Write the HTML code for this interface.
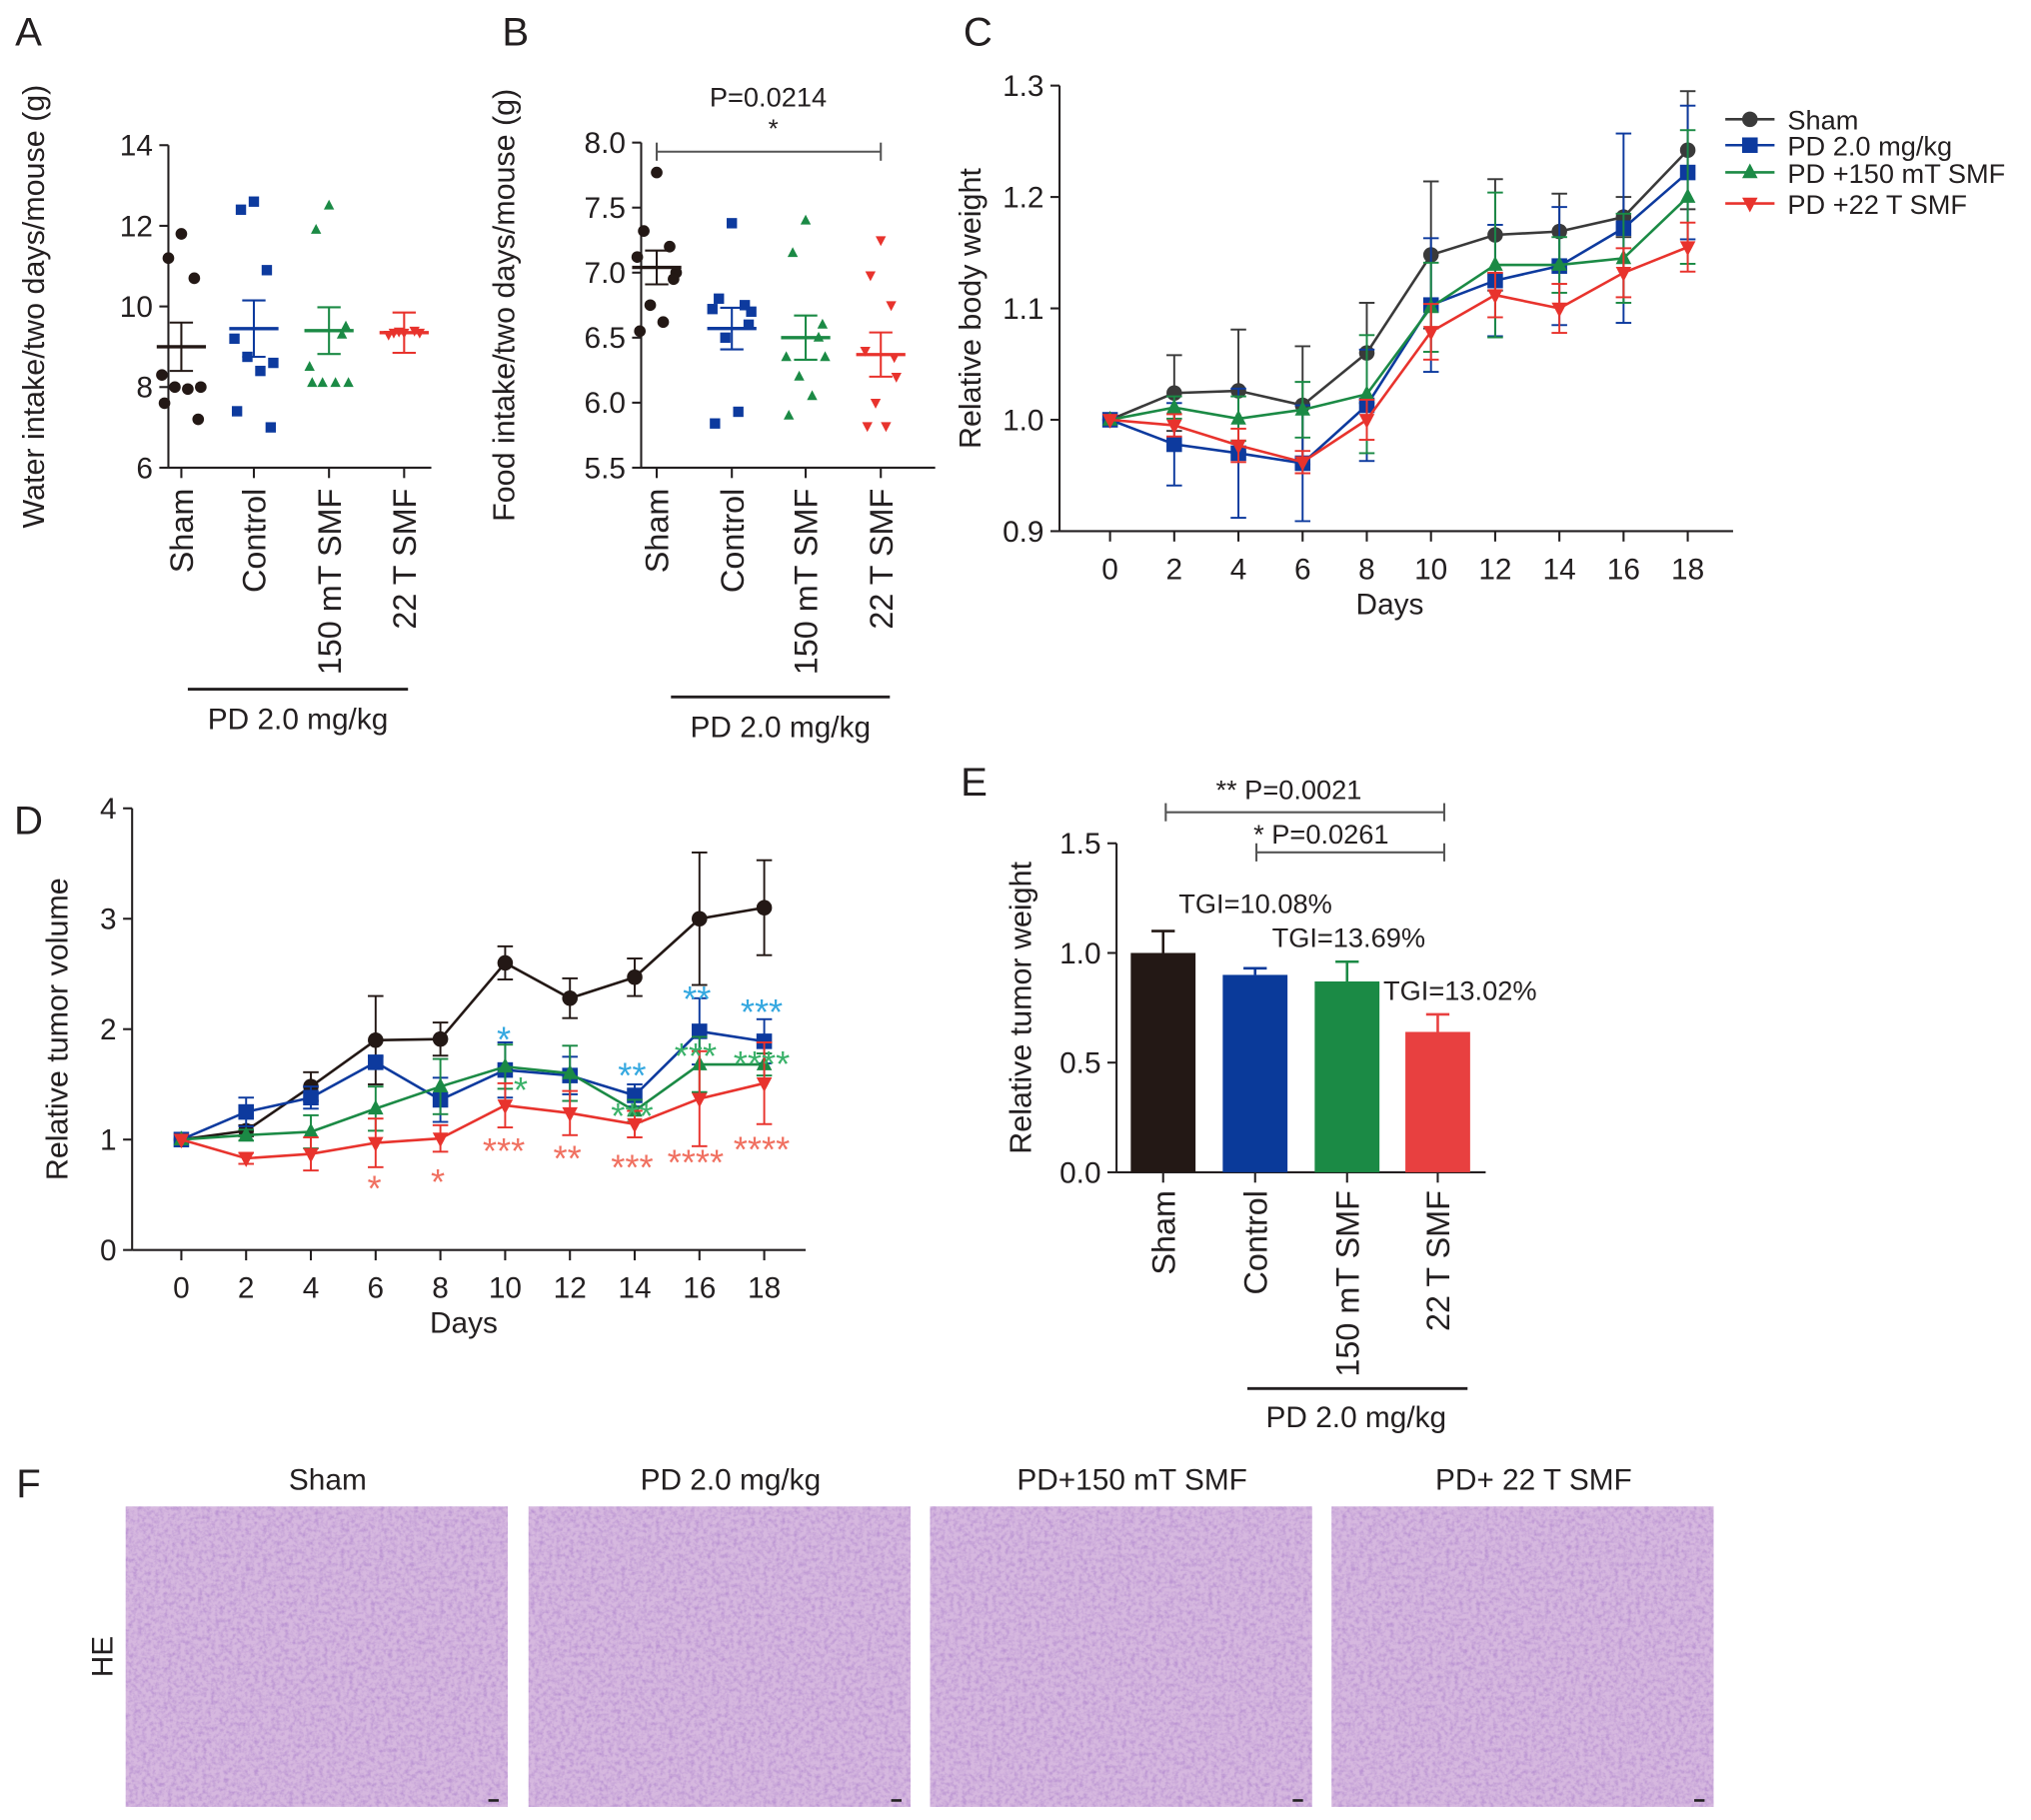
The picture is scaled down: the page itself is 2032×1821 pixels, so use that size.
<!DOCTYPE html>
<html><head><meta charset="utf-8"><style>
html,body{margin:0;padding:0;background:#fff;}
svg{display:block;font-family:"Liberation Sans",Arial,sans-serif;}
</style></head><body>
<svg id="fig" width="2032" height="1821" viewBox="0 0 1568 1405" xmlns="http://www.w3.org/2000/svg">
<defs>
<filter id="tissue" x="0" y="0" width="100%" height="100%">
<feTurbulence type="fractalNoise" baseFrequency="0.3" numOctaves="3" seed="4" result="n"/>
<feColorMatrix in="n" type="matrix" values="0 0 0 0 0.5  0 0 0 0 0.3  0 0 0 0 0.65  0 0 0 2.2 -0.85" result="c"/>
<feComposite in="c" in2="SourceGraphic" operator="atop"/>
</filter>
</defs>
<g id="root"></g>
</svg>
<script>
// ---------- data ----------
const groupsAB = ["Sham","Control","150 mT SMF","22 T SMF"];
const waterSham = [11.8,11.2,10.7,8.3,8.0,8.0,7.95,7.6,7.2];
const waterCtrl = [12.6,12.4,10.9,9.2,8.6,8.75,8.4,7.4,7.0];
const water150 = [12.5,11.9,9.3,8.5,8.1,8.1,8.1,8.1,9.5];
const water22 = [9.35,9.35,9.4,9.3,9.35,9.38];
const waterMean = [9.0,9.45,9.4,9.35];
const waterSem = [0.6,0.7,0.58,0.5];
const foodSham = [7.77,7.32,7.2,7.12,7.0,6.75,6.62,6.55,6.95];
const foodCtrl = [7.38,6.8,6.75,6.72,6.7,6.5,5.93,5.84,6.6];
const food150 = [7.4,7.15,6.5,6.35,6.35,6.2,6.05,5.9,6.6];
const food22 = [7.25,6.98,6.75,6.4,6.2,6.0,5.82,5.82,6.35];
const foodMean = [7.04,6.57,6.5,6.37];
const foodSem = [0.13,0.16,0.17,0.17];

const days = [0,2,4,6,8,10,12,14,16,18];
const bwSham = [1.0,1.024,1.026,1.013,1.06,1.148,1.166,1.169,1.182,1.242];
const bwShamErr = [0,0.034,0.055,0.053,0.045,0.066,0.05,0.034,0.018,0.053];
const bwPD = [1.0,0.978,0.97,0.961,1.013,1.103,1.125,1.138,1.172,1.222];
const bwPDErr = [0,0.037,0.058,0.052,0.05,0.06,0.05,0.053,0.085,0.06];
const bw150 = [1.0,1.011,1.001,1.009,1.023,1.101,1.139,1.139,1.145,1.2];
const bw150Err = [0,0.01,0.02,0.025,0.053,0.04,0.065,0.025,0.04,0.06];
const bw22 = [1.0,0.995,0.977,0.962,1.0,1.079,1.112,1.1,1.132,1.155];
const bw22Err = [0,0.01,0.015,0.01,0.018,0.025,0.02,0.022,0.022,0.022];

const tvSham = [1,1.08,1.48,1.9,1.91,2.6,2.28,2.47,3.0,3.1];
const tvShamErr = [0,0.05,0.13,0.4,0.15,0.15,0.18,0.17,0.6,0.43];
const tvPD = [1,1.25,1.38,1.7,1.36,1.63,1.58,1.4,1.98,1.89];
const tvPDErr = [0,0.13,0.1,0.05,0.2,0.25,0.17,0.1,0.3,0.2];
const tv150 = [1,1.04,1.07,1.28,1.48,1.66,1.6,1.26,1.68,1.68];
const tv150Err = [0,0.05,0.15,0.2,0.25,0.2,0.25,0.1,0.25,0.1];
const tv22 = [1,0.83,0.87,0.97,1.01,1.31,1.24,1.14,1.37,1.51];
const tv22Err = [0,0.05,0.15,0.22,0.12,0.2,0.2,0.12,0.43,0.37];

const twVals = [1.0,0.9,0.87,0.64];
const twErr = [0.1,0.03,0.09,0.08];
const twTGI = ["","TGI=10.08%","TGI=13.69%","TGI=13.02%"];

const heTitles = ["Sham","PD 2.0 mg/kg","PD+150 mT SMF","PD+ 22 T SMF"];

// ---------- helpers ----------
const NS="http://www.w3.org/2000/svg";
const root=document.getElementById('root');
function el(tag,attrs,parent,text){const e=document.createElementNS(NS,tag);for(const k in attrs)e.setAttribute(k,attrs[k]);if(text!==undefined)e.textContent=text;(parent||root).appendChild(e);return e;}
function grp(name,parent){const g=el('g',{},parent);


return g;}
function txt(g,x,y,s,size,opts){opts=opts||{};const t=el('text',{x:x,y:y,'font-size':size,fill:opts.fill||'#231f20','text-anchor':opts.anchor||'middle'},g,s);if(opts.rot)t.setAttribute('transform','rotate('+opts.rot+' '+x+' '+y+')');return t;}
function line(g,x1,y1,x2,y2,c,w){return el('line',{x1:x1,y1:y1,x2:x2,y2:y2,stroke:c||'#231f20','stroke-width':w||1.6},g);}
function marker(g,type,x,y,s,c){
 let m;
 if(type==='circle')m=el('circle',{cx:x,cy:y,r:s,fill:c},g);
 else if(type==='square')m=el('rect',{x:x-s,y:y-s,width:2*s,height:2*s,fill:c},g);
 else if(type==='up')m=el('polygon',{points:(x)+','+(y-s*1.15)+' '+(x-s)+','+(y+s*0.75)+' '+(x+s)+','+(y+s*0.75),fill:c},g);
 else m=el('polygon',{points:(x)+','+(y+s*1.15)+' '+(x-s)+','+(y-s*0.75)+' '+(x+s)+','+(y-s*0.75),fill:c},g);
 return m;}
function letter(s,x,y){const g=grp('panel-label-'+s.toLowerCase());txt(g,x,y,s,31,{anchor:'middle'});}

const C={k:'#231815',b:'#0d3a9e',g:'#1b8a45',r:'#e8332d',cy:'#35a8e0',gs:'#3bb26a',rs:'#f07060'};

// ---------- scatter panels A,B ----------
function scatterPanel(id,ax,cfg){
 const g=grp(id);
 const y=v=>cfg.y0+(v-cfg.vmin)/(cfg.vmax-cfg.vmin)*(cfg.y1-cfg.y0);
 line(g,ax,cfg.y0,ax,cfg.y1);line(g,ax,cfg.y0,cfg.xend,cfg.y0);
 cfg.ticks.forEach(t=>{line(g,ax-7,y(t),ax,y(t));txt(g,ax-12,y(t)+8,cfg.fmt(t),23,{anchor:'end'});});
 const yt=txt(g,cfg.titleX,(cfg.y0+cfg.y1)/2,cfg.title,23.5,{rot:-90});
 
 const cols=[C.k,C.b,C.g,C.r],types=['circle','square','up','down'];
 cfg.xs.forEach((cx,i)=>{
  line(g,cx,cfg.y0,cx,cfg.y0+8);
  const lab=txt(g,cx+9,cfg.y0+16,groupsAB[i],25,{anchor:'end',rot:-90});
  
  const pts=cfg.pts[i];
  const offs=[0,-10,10,-15,15,-5,5,-13,13];
  pts.forEach((v,j)=>{const m=marker(g,types[i],cx+offs[j%offs.length]*(i===3?0.8:1),y(v),i===0?4.5:4,cols[i]);
   });
  const mm=cfg.mean[i],se=cfg.sem[i];
  line(g,cx-19,y(mm),cx+19,y(mm),cols[i],2.6);
  line(g,cx,y(mm-se),cx,y(mm+se),cols[i],1.6);
  line(g,cx-9,y(mm-se),cx+9,y(mm-se),cols[i],1.6);
  line(g,cx-9,y(mm+se),cx+9,y(mm+se),cols[i],1.6);
 });
 line(g,cfg.ul[0],cfg.ul[2],cfg.ul[1],cfg.ul[2],'#231f20',2.2);
 txt(g,(cfg.ul[0]+cfg.ul[1])/2,cfg.ul[2]+31,'PD 2.0 mg/kg',23);
 return g;
}
letter('A',22,35);
scatterPanel('panel-a-water-intake',130,{y0:361,y1:112,vmin:6,vmax:14,ticks:[6,8,10,12,14],fmt:t=>String(t),
 xend:333,xs:[140,196,254,312],pts:[waterSham,waterCtrl,water150,water22],mean:waterMean,sem:waterSem,
 title:'Water intake/two days/mouse (g)',titleX:34,ul:[145,315,532]});
letter('B',398,35);
const gB=scatterPanel('panel-b-food-intake',495,{y0:361,y1:110,vmin:5.5,vmax:8.0,ticks:[5.5,6.0,6.5,7.0,7.5,8.0],fmt:t=>t.toFixed(1),
 xend:722,xs:[507,565,622,680],pts:[foodSham,foodCtrl,food150,food22],mean:foodMean,sem:foodSem,
 title:'Food intake/two days/mouse (g)',titleX:397,ul:[518,687,538]});
line(gB,507,117,680,117,'#555',1.6);line(gB,507,110,507,124,'#555',1.6);line(gB,680,110,680,124,'#555',1.6);
txt(gB,597,106,'*',20);txt(gB,593,82,'P=0.0214',21);

// ---------- line panels C,D ----------
function linePanel(id,cfg){
 const g=grp(id);
 const x=d=>cfg.x0+d/18*(cfg.x18-cfg.x0);
 const y=v=>cfg.yb+(v-cfg.vmin)/(cfg.vmax-cfg.vmin)*(cfg.yt-cfg.yb);
 line(g,cfg.ax,cfg.yt,cfg.ax,cfg.yb);line(g,cfg.ax,cfg.yb,cfg.xend,cfg.yb);
 cfg.ticks.forEach(t=>{line(g,cfg.ax-7,y(t),cfg.ax,y(t));txt(g,cfg.ax-12,y(t)+8,cfg.fmt(t),23,{anchor:'end'});});
 days.forEach(d=>{line(g,x(d),cfg.yb,x(d),cfg.yb+8);txt(g,x(d),cfg.yb+37,String(d),23);});
 txt(g,cfg.dx,cfg.yb+64,'Days',23);
 txt(g,cfg.titleX,(cfg.yt+cfg.yb)/2,cfg.title,23.5,{rot:-90});
 const series=cfg.series;
 series.forEach(s=>{
  const sg=grp('series-'+s.name,g);
  s.vals.forEach((v,i)=>{if(!s.err[i])return;const xx=x(days[i]);
   line(sg,xx,y(v-s.err[i]),xx,y(v+s.err[i]),s.c,1.5);
   line(sg,xx-6,y(v-s.err[i]),xx+6,y(v-s.err[i]),s.c,1.5);
   line(sg,xx-6,y(v+s.err[i]),xx+6,y(v+s.err[i]),s.c,1.5);});
  el('polyline',{points:s.vals.map((v,i)=>x(days[i])+','+y(v)).join(' '),fill:'none',stroke:s.c,'stroke-width':2},sg);
  s.vals.forEach((v,i)=>{const m=marker(sg,s.m,x(days[i]),y(v),6,s.c);
   });
 });
 return {g:g,x:x,y:y};
}
letter('C',755,35);
const pc=linePanel('panel-c-body-weight',{ax:818,x0:857,x18:1303,xend:1338,yt:66,yb:410,vmin:0.9,vmax:1.3,dx:1073,
 ticks:[0.9,1.0,1.1,1.2,1.3],fmt:t=>t.toFixed(1),title:'Relative body weight',titleX:757,
 series:[{name:'sham',vals:bwSham,err:bwShamErr,c:'#3a3a3a',m:'circle'},{name:'pd',vals:bwPD,err:bwPDErr,c:C.b,m:'square'},
  {name:'pd-150mt',vals:bw150,err:bw150Err,c:C.g,m:'up'},{name:'pd-22t',vals:bw22,err:bw22Err,c:C.r,m:'down'}]});
const leg=grp('legend',pc.g);
[['Sham','#3a3a3a','circle',92],['PD 2.0 mg/kg',C.b,'square',112],['PD +150 mT SMF',C.g,'up',133],['PD +22 T SMF',C.r,'down',157]].forEach(r=>{
 const e=grp('legend-entry',leg);
 line(e,1332,r[3],1370,r[3],r[1],2);marker(e,r[2],1351,r[3],6,r[1]);txt(e,1380,r[3]+8,r[0],21,{anchor:'start'});});

letter('D',22,644);
const pd=linePanel('panel-d-tumor-volume',{ax:102,x0:140,x18:590,xend:622,yt:624,yb:965,vmin:0,vmax:4,dx:358,
 ticks:[0,1,2,3,4],fmt:t=>String(t),title:'Relative tumor volume',titleX:52,
 series:[{name:'sham',vals:tvSham,err:tvShamErr,c:'#231815',m:'circle'},{name:'pd',vals:tvPD,err:tvPDErr,c:C.b,m:'square'},
  {name:'pd-150mt',vals:tv150,err:tv150Err,c:C.g,m:'up'},{name:'pd-22t',vals:tv22,err:tv22Err,c:C.r,m:'down'}]});
const sig=grp('significance-stars',pd.g);
[[389,812,'*',C.cy],[488,840,'**',C.cy],[538,781,'**',C.cy],[588,791,'***',C.cy],
 [402,851,'*',C.gs],[488,871,'***',C.gs],[537,825,'***',C.gs],[588,831,'****',C.gs],
 [289,927,'*',C.rs],[338,922,'*',C.rs],[389,898,'***',C.rs],[438,904,'**',C.rs],[488,911,'***',C.rs],[537,907,'****',C.rs],[588,897,'****',C.rs]
].forEach(s=>txt(sig,s[0],s[1],s[2],28,{fill:s[3]}).setAttribute('letter-spacing','0'));

// ---------- bar panel E ----------
letter('E',752,614);
(function(){
 const g=grp('panel-e-tumor-weight');
 const ax=862,y0=905,y15=651,xend=1147;
 const y=v=>y0+v/1.5*(y15-y0);
 const xs=[898,969,1040,1110],cols=[C.k,'#0a3a9a',C.g,'#e84040'];
 line(g,ax,y15,ax,y0);line(g,ax,y0,xend,y0);
 [0,0.5,1.0,1.5].forEach(t=>{line(g,ax-7,y(t),ax,y(t));txt(g,ax-12,y(t)+8,t.toFixed(1),23,{anchor:'end'});});
 txt(g,796,778,'Relative tumor weight',23.5,{rot:-90});
 twVals.forEach((v,i)=>{
  const b=el('rect',{x:xs[i]-25,y:y(v),width:50,height:y0-y(v),fill:cols[i]},g);
  
  
  line(g,xs[i],y(v),xs[i],y(v+twErr[i]),cols[i],2);line(g,xs[i]-9,y(v+twErr[i]),xs[i]+9,y(v+twErr[i]),cols[i],2);
  line(g,xs[i],y0,xs[i],y0+8);
  txt(g,xs[i]+9,y0+14,groupsAB[i],25,{anchor:'end',rot:-90});
 });
 [[910,705],[982,731],[1068,772]].forEach((p,i)=>txt(g,p[0],p[1],twTGI[i+1],21,{anchor:'start'}));
 line(g,900,627,1115,627,'#555',1.6);line(g,900,620,900,634,'#555',1.6);line(g,1115,620,1115,634,'#555',1.6);
 txt(g,995,617,'** P=0.0021',21);
 line(g,970,658,1115,658,'#555',1.6);line(g,970,651,970,665,'#555',1.6);line(g,1115,651,1115,665,'#555',1.6);
 txt(g,1020,651,'* P=0.0261',21);
 line(g,963,1072,1133,1072,'#231f20',2.2);txt(g,1047,1102,'PD 2.0 mg/kg',23);
})();

// ---------- panel F ----------
letter('F',22,1156);
(function(){
 const g=grp('panel-f-he-images');
 const xs=[97,408,718,1028];
 xs.forEach((x,i)=>{
  txt(g,x+156,1150,heTitles[i],23);
  const r=el('rect',{x:x,y:1163,width:295,height:232,fill:'#d6b8df',filter:'url(#tissue)'},g);
  
  
  el('rect',{x:x+280,y:1389,width:8,height:2,fill:'#222'},g);
 });
 txt(g,87,1279,'HE',23,{rot:-90});
})();
</script>
</body></html>
